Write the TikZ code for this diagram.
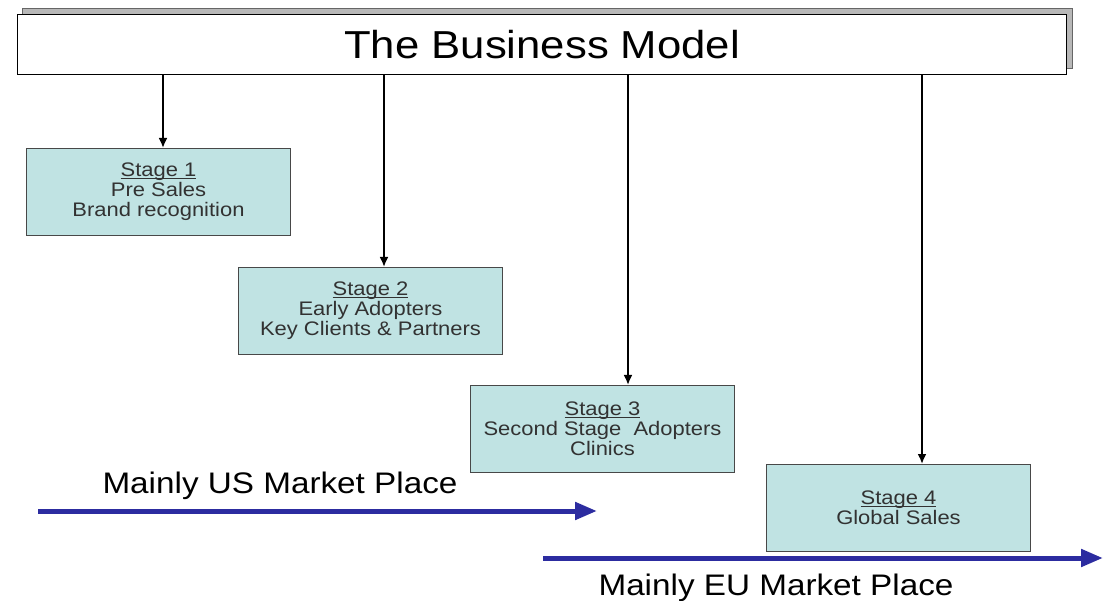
\documentclass[tikz,border=0pt]{standalone}
\usepackage{fontspec}
\setmainfont{Liberation Sans}[FakeStretch=1.12]
\usetikzlibrary{arrows.meta,positioning}
\definecolor{stagefill}{RGB}{192,227,227}
\definecolor{stageline}{RGB}{72,72,72}
\definecolor{stagetext}{RGB}{50,50,50}
\definecolor{marketblue}{RGB}{44,44,160}
% stage heading, underlined close to the baseline
\newcommand{\stagename}[1]{\setbox0\hbox{#1}\rlap{\rule[-2.2pt]{\wd0}{0.8pt}}\box0}
\tikzset{
  titlebox/.style={draw=black, line width=1.3pt, fill=white, minimum width=1049pt, minimum height=60pt, inner sep=0pt, font=\fontsize{39}{44}\selectfont},
  shadowbox/.style={draw=black!60, line width=0.8pt, fill=black!28},
  stagebox/.style={draw=stageline, line width=1pt, fill=stagefill, minimum width=264pt, minimum height=87pt, align=center, inner sep=0pt, text=stagetext, font=\fontsize{19.6}{20}\selectfont},
  feedarrow/.style={-{Latex[length=10pt,width=9pt]}, line width=2.4pt},
  marketarrow/.style={-{Triangle[length=22pt,width=17pt]}, line width=5pt, draw=marketblue},
  market/.style={font=\fontsize{29.7}{34}\selectfont, inner sep=0pt, anchor=base}
}
\begin{document}
\begin{tikzpicture}[x=1pt, y=-1pt]
\useasboundingbox (0,0) rectangle (1111,601);
% title with its drop shadow
\draw[shadowbox] (22,8) rectangle (1072,68);
\node[titlebox, anchor=north west] (title) at (17,14) {The Business Model};

% the four stages
\node[stagebox, anchor=north west] (s1) at (26,148) {\stagename{Stage 1}\\Pre Sales\\Brand recognition};
\node[stagebox, anchor=north west] (s2) at (238,267) {\stagename{Stage 2}\\Early Adopters\\Key Clients \& Partners};
\node[stagebox, anchor=north west] (s3) at (470,385) {\stagename{Stage 3}\\Second Stage\ \ Adopters\\Clinics};
\node[stagebox, anchor=north west] (s4) at (766,464) {\stagename{Stage 4}\\Global Sales};

\foreach \s/\x in {s1/163, s2/384, s3/628, s4/922}
  \draw[feedarrow] (title.south -| \x,0) -- (\s.north -| \x,0);

% market timelines
\coordinate (us0) at (38,511);
\coordinate (us1) at (597,511);
\coordinate (eu0) at (543,558);
\coordinate (eu1) at (1103,558);
\draw[marketarrow] (us0) -- (us1);
\draw[marketarrow] (eu0) -- (eu1);
\node[market] (us) at (280,493) {Mainly US Market Place};
\node[market] (eu) at (776,595) {Mainly EU Market Place};
\end{tikzpicture}
\end{document}
